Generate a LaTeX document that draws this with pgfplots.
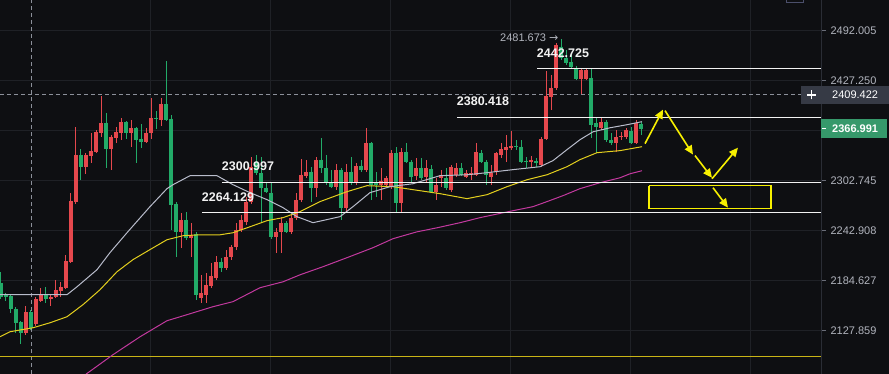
\documentclass[border=0pt]{standalone}
\usepackage{fontspec}
\setmainfont{Liberation Sans}
\newfontfamily\dejavu{DejaVu Sans}
\usepackage{pgfplots}
\pgfplotsset{compat=1.18}
\usetikzlibrary{arrows.meta}
\definecolor{bgc}{HTML}{0E0F12}
\definecolor{gridc}{HTML}{1F2126}
\definecolor{tickc}{HTML}{6A6D78}
\definecolor{labc}{HTML}{B2B5BE}
\definecolor{upc}{HTML}{E5484D}
\definecolor{dnc}{HTML}{22AB68}
\definecolor{maw}{HTML}{B8BCCB}
\definecolor{may}{HTML}{E3CF1E}
\definecolor{mam}{HTML}{C2399E}
\definecolor{lvl}{HTML}{F2F2F2}
\definecolor{yel}{HTML}{F7F000}
\definecolor{byel}{HTML}{C9B416}
\definecolor{dashc}{HTML}{8C909A}
\definecolor{boxc}{HTML}{363A45}
\definecolor{grc}{HTML}{36996B}
\definecolor{topc}{HTML}{4B4F6B}
\definecolor{sepc}{HTML}{2A2D35}
\begin{document}
\begin{tikzpicture}
\fill[bgc] (0,0) rectangle (889pt,374pt);
\begin{axis}[at={(0,0)}, anchor=south west, scale only axis, width=821pt, height=374pt,
 ymode=log, xmin=-0.2, xmax=164, ymin=2080.2, ymax=2533.0,
 axis line style={draw=none},
 xtick={29.8,53.8,77.8,101.8,125.8,149.8}, xticklabels={},
 xtick style={draw=none},
 ytick={2127.859,2184.627,2242.908,2302.745,2364.16,2427.250,2492.005},
 yticklabels={2127.859,2184.627,2242.908,2302.745,,2427.250,2492.005},
 ytick pos=right, yticklabel pos=right,
 tick align=outside, major tick length=5pt,
 ytick style={draw=tickc, line width=0.8pt},
 yticklabel style={font=\fontsize{11}{13}\selectfont, text=labc, xshift=1pt},
 grid=major, grid style={draw=gridc, line width=0.8pt},
 unbounded coords=jump, clip=true,
 every axis plot/.append style={line cap=butt, mark=none},
]
% crosshair
\addplot[dashc, dash pattern=on 4pt off 3pt, line width=0.9pt] coordinates {(6,2080.2)(6,2533)};
\addplot[dashc, dash pattern=on 4pt off 3pt, line width=0.9pt] coordinates {(-0.2,2409.422)(164,2409.422)};
% bottom yellow line
\addplot[byel, line width=1pt] coordinates {(-0.2,2099.1)(164,2099.1)};
% up wicks
\addplot[upc, line width=1pt] coordinates {
(5,2123.4)(5,2156.3)(5,nan) (7,2133.5)(7,2166.5)(7,nan) (8,2160.8)(8,2176.7)(8,nan)
(10,2156.3)(10,2169.9)(10,nan) (11,2165.3)(11,2185.8)(11,nan) (12,2166.5)(12,2183.5)(12,nan)
(13,2175.5)(13,2214.9)(13,nan) (14,2205.6)(14,2288.4)(14,nan) (15,2275.2)(15,2369.2)(15,nan)
(17,2311.3)(17,2337.1)(17,nan) (18,2324.9)(18,2361.7)(18,nan) (19,2337.1)(19,2365.4)(19,nan)
(20,2356.8)(20,2408.3)(20,nan) (22,2316.3)(22,2359.2)(22,nan) (23,2349.4)(23,2369.2)(23,nan)
(24,2353.1)(24,2380.6)(24,nan) (26,2344.5)(26,2378.0)(26,nan) (29,2349.4)(29,2367.9)(29,nan)
(30,2354.3)(30,2405.8)(30,nan) (32,2370.5)(32,2405.8)(32,nan) (36,2223.1)(36,2264.4)(36,nan)
(38,2212.6)(38,2252.5)(38,nan) (40,2159.7)(40,2191.6)(40,nan) (41,2159.7)(41,2194.0)(41,nan)
(42,2176.7)(42,2205.6)(42,nan) (43,2185.8)(43,2213.8)(43,nan) (45,2197.4)(45,2220.8)(45,nan)
(46,2209.1)(46,2226.6)(46,nan) (47,2220.8)(47,2252.5)(47,nan) (48,2241.7)(48,2262.0)(48,nan)
(49,2250.1)(49,2283.6)(49,nan) (50,2275.2)(50,2332.2)(50,nan) (55,2217.3)(55,2246.5)(55,nan)
(56,2217.3)(56,2259.7)(56,nan) (58,2239.4)(58,2262.0)(58,nan) (59,2256.1)(59,2288.4)(59,nan)
(60,2277.6)(60,2329.8)(60,nan) (61,2306.4)(61,2328.5)(61,nan) (63,2283.6)(63,2332.2)(63,nan)
(67,2292.0)(67,2323.6)(67,nan) (69,2265.6)(69,2323.6)(69,nan) (71,2298.0)(71,2324.9)(71,nan)
(73,2313.8)(73,2367.9)(73,nan) (76,2280.0)(76,2318.7)(76,nan) (77,2296.8)(77,2308.9)(77,nan)
(78,2293.2)(78,2340.8)(78,nan) (80,2265.6)(80,2343.3)(80,nan) (83,2304.0)(83,2331.0)(83,nan)
(85,2300.4)(85,2328.5)(85,nan) (87,2280.0)(87,2306.4)(87,nan) (88,2295.6)(88,2316.3)(88,nan)
(90,2289.6)(90,2322.4)(90,nan) (91,2307.7)(91,2324.9)(91,nan) (93,2306.4)(93,2316.3)(93,nan)
(94,2304.0)(94,2319.9)(94,nan) (95,2308.9)(95,2349.4)(95,nan) (98,2298.0)(98,2322.4)(98,nan)
(99,2310.1)(99,2338.4)(99,nan) (100,2331.0)(100,2349.4)(100,nan) (101,2326.1)(101,2359.2)(101,nan)
(102,2340.8)(102,2364.2)(102,nan) (106,2319.9)(106,2333.5)(106,nan) (108,2319.9)(108,2356.8)(108,nan)
(109,2353.1)(109,2440.2)(109,nan) (110,2390.7)(110,2435.0)(110,nan) (111,2415.9)(111,2476.5)(111,nan)
(116,2410.8)(116,2442.8)(116,nan) (117,2428.5)(117,2442.8)(117,nan) (120,2365.4)(120,2380.6)(120,nan)
(123,2338.4)(123,2365.4)(123,nan) (124,2353.1)(124,2362.9)(124,nan) (125,2354.3)(125,2367.9)(125,nan)
(127,2348.2)(127,2378.0)(127,nan)};
% up bodies
\addplot[upc, line width=3.6pt] coordinates {
(5,2125.6)(5,2149.4)(5,nan) (7,2135.8)(7,2164.2)(7,nan) (8,2161.9)(8,2169.9)(8,nan)
(10,2164.2)(10,2166.5)(10,nan) (11,2166.5)(11,2174.4)(11,nan) (12,2173.3)(12,2177.8)(12,nan)
(13,2176.7)(13,2207.9)(13,nan) (14,2206.8)(14,2278.8)(14,nan) (15,2277.6)(15,2334.7)(15,nan)
(17,2319.9)(17,2334.7)(17,nan) (18,2333.5)(18,2339.6)(18,nan) (19,2338.4)(19,2362.9)(19,nan)
(20,2361.7)(20,2374.2)(20,nan) (22,2342.1)(22,2356.8)(22,nan) (23,2355.6)(23,2362.9)(23,nan)
(24,2361.7)(24,2375.5)(24,nan) (26,2361.7)(26,2367.9)(26,nan) (29,2350.7)(29,2361.7)(29,nan)
(30,2361.7)(30,2380.6)(30,nan) (32,2378.0)(32,2398.2)(32,nan) (36,2241.7)(36,2256.1)(36,nan)
(38,2234.7)(38,2238.2)(38,nan) (40,2165.3)(40,2171.0)(40,nan) (41,2168.7)(41,2180.1)(41,nan)
(42,2178.9)(42,2190.5)(42,nan) (43,2188.1)(43,2206.8)(43,nan) (45,2199.8)(45,2212.6)(45,nan)
(46,2212.6)(46,2224.3)(46,nan) (47,2224.3)(47,2244.1)(47,nan) (48,2244.1)(48,2256.1)(48,nan)
(49,2253.7)(49,2277.6)(49,nan) (50,2277.6)(50,2319.9)(50,nan) (55,2235.9)(55,2241.7)(55,nan)
(56,2241.7)(56,2252.5)(56,nan) (58,2241.7)(58,2258.5)(58,nan) (59,2258.5)(59,2280.0)(59,nan)
(60,2280.0)(60,2310.1)(60,nan) (61,2308.9)(61,2313.8)(61,nan) (63,2294.4)(63,2328.5)(63,nan)
(67,2295.6)(67,2316.3)(67,nan) (69,2270.4)(69,2313.8)(69,nan) (71,2300.4)(71,2321.2)(71,nan)
(73,2316.3)(73,2349.4)(73,nan) (76,2298.0)(76,2302.7)(76,nan) (77,2298.0)(77,2306.4)(77,nan)
(78,2295.6)(78,2337.1)(78,nan) (80,2276.4)(80,2338.4)(80,nan) (83,2308.9)(83,2318.7)(83,nan)
(85,2307.7)(85,2318.7)(85,nan) (87,2289.6)(87,2298.0)(87,nan) (88,2306.4)(88,2310.1)(88,nan)
(90,2292.0)(90,2319.9)(90,nan) (91,2310.1)(91,2318.7)(91,nan) (93,2307.7)(93,2312.6)(93,nan)
(94,2310.1)(94,2312.6)(94,nan) (95,2310.1)(95,2338.4)(95,nan) (98,2307.7)(98,2312.6)(98,nan)
(99,2313.8)(99,2337.1)(99,nan) (100,2334.7)(100,2342.1)(100,nan) (101,2340.8)(101,2344.5)(101,nan)
(102,2343.3)(102,2345.7)(102,nan) (106,2326.1)(106,2328.5)(106,nan) (108,2322.4)(108,2354.3)(108,nan)
(109,2354.3)(109,2408.3)(109,nan) (110,2407.1)(110,2418.4)(110,nan) (111,2418.4)(111,2473.9)(111,nan)
(116,2429.8)(116,2441.5)(116,nan) (117,2429.8)(117,2441.5)(117,nan) (120,2367.9)(120,2375.5)(120,nan)
(123,2349.4)(123,2356.8)(123,nan) (124,2356.8)(124,2358.0)(124,nan) (125,2356.8)(125,2365.4)(125,nan)
(127,2349.4)(127,2374.2)(127,nan)};
% down wicks
\addplot[dnc, line width=1pt] coordinates {
(0,2164.2)(0,2195.1)(0,nan) (1,2161.9)(1,2171.0)(1,nan) (2,2148.3)(2,2169.9)(2,nan)
(3,2125.6)(3,2155.1)(3,nan) (4,2113.5)(4,2139.2)(4,nan) (6,2129.0)(6,2151.7)(6,nan)
(9,2159.7)(9,2177.8)(9,nan) (16,2304.0)(16,2342.1)(16,nan) (21,2318.7)(21,2386.9)(21,nan)
(25,2354.3)(25,2376.8)(25,nan) (27,2324.9)(27,2369.2)(27,nan) (28,2343.3)(28,2373.0)(28,nan)
(31,2366.7)(31,2389.4)(31,nan) (33,2376.8)(33,2453.2)(33,nan) (34,2244.1)(34,2384.3)(34,nan)
(35,2212.6)(35,2277.6)(35,nan) (37,2232.4)(37,2265.6)(37,nan) (39,2163.1)(39,2241.7)(39,nan)
(44,2195.1)(44,2211.4)(44,nan) (51,2310.1)(51,2334.7)(51,nan) (52,2253.7)(52,2332.2)(52,nan)
(53,2288.4)(53,2300.4)(53,nan) (54,2233.6)(54,2300.4)(54,nan) (57,2240.6)(57,2254.9)(57,nan)
(62,2277.6)(62,2319.9)(62,nan) (64,2312.6)(64,2355.6)(64,nan) (65,2298.0)(65,2334.7)(65,nan)
(66,2294.4)(66,2316.3)(66,nan) (68,2256.1)(68,2318.7)(68,nan) (70,2298.0)(70,2332.2)(70,nan)
(72,2313.8)(72,2328.5)(72,nan) (74,2280.0)(74,2350.7)(74,nan) (75,2283.6)(75,2313.8)(75,nan)
(79,2265.6)(79,2344.5)(79,nan) (81,2324.9)(81,2349.4)(81,nan) (82,2301.6)(82,2328.5)(82,nan)
(84,2304.0)(84,2331.0)(84,nan) (86,2288.4)(86,2322.4)(86,nan) (89,2292.0)(89,2318.7)(89,nan)
(92,2308.9)(92,2324.9)(92,nan) (96,2324.9)(96,2340.8)(96,nan) (97,2298.0)(97,2328.5)(97,nan)
(103,2340.8)(103,2353.1)(103,nan) (104,2324.9)(104,2353.1)(104,nan) (105,2318.7)(105,2332.2)(105,nan)
(107,2319.9)(107,2331.0)(107,nan) (112,2454.4)(112,2481.673)(112,nan) (113,2448.0)(113,2467.4)(113,nan)
(114,2444.1)(114,2460.9)(114,nan) (115,2428.5)(115,2446.7)(115,nan) (118,2355.6)(118,2442.8)(118,nan)
(119,2337.1)(119,2380.6)(119,nan) (121,2350.7)(121,2378.0)(121,nan) (122,2347.0)(122,2361.7)(122,nan)
(126,2348.2)(126,2369.2)(126,nan) (128,2359.2)(128,2375.5)(128,nan)};
% down bodies
\addplot[dnc, line width=3.6pt] coordinates {
(0,2182.4)(0,2166.5)(0,nan) (1,2168.7)(1,2166.5)(1,nan) (2,2167.6)(2,2152.9)(2,nan)
(3,2152.9)(3,2136.9)(3,nan) (4,2138.1)(4,2125.6)(4,nan) (6,2149.4)(6,2131.3)(6,nan)
(9,2169.9)(9,2164.2)(9,nan) (16,2334.7)(16,2319.9)(16,nan) (21,2374.2)(21,2342.1)(21,nan)
(25,2375.5)(25,2361.7)(25,nan) (27,2367.9)(27,2353.1)(27,nan) (28,2354.3)(28,2350.7)(28,nan)
(31,2380.6)(31,2379.3)(31,nan) (33,2398.2)(33,2378.0)(33,nan) (34,2379.3)(34,2274.0)(34,nan)
(35,2275.2)(35,2241.7)(35,nan) (37,2256.1)(37,2234.7)(37,nan) (39,2239.4)(39,2168.7)(39,nan)
(44,2206.8)(44,2199.8)(44,nan) (51,2326.1)(51,2312.6)(51,nan) (52,2312.6)(52,2294.4)(52,nan)
(53,2294.4)(53,2289.6)(53,nan) (54,2288.4)(54,2235.9)(54,nan) (57,2252.5)(57,2241.7)(57,nan)
(62,2313.8)(62,2294.4)(62,nan) (64,2328.5)(64,2318.7)(64,nan) (65,2318.7)(65,2301.6)(65,nan)
(66,2301.6)(66,2295.6)(66,nan) (68,2316.3)(68,2270.4)(68,nan) (70,2313.8)(70,2300.4)(70,nan)
(72,2321.2)(72,2316.3)(72,nan) (74,2349.4)(74,2298.0)(74,nan) (75,2300.4)(75,2298.0)(75,nan)
(79,2337.1)(79,2276.4)(79,nan) (81,2338.4)(81,2326.1)(81,nan) (82,2326.1)(82,2307.7)(82,nan)
(84,2318.7)(84,2306.4)(84,nan) (86,2317.5)(86,2289.6)(86,nan) (89,2306.4)(89,2294.4)(89,nan)
(92,2318.7)(92,2310.1)(92,nan) (96,2337.1)(96,2326.1)(96,nan) (97,2326.1)(97,2310.1)(97,nan)
(103,2345.7)(103,2344.5)(103,nan) (104,2344.5)(104,2326.1)(104,nan) (105,2327.3)(105,2326.1)(105,nan)
(107,2327.3)(107,2324.9)(107,nan) (112,2471.3)(112,2457.0)(112,nan) (113,2457.0)(113,2450.6)(113,nan)
(114,2451.9)(114,2445.4)(114,nan) (115,2442.8)(115,2429.8)(115,nan) (118,2431.1)(118,2371.7)(118,nan)
(119,2374.2)(119,2369.2)(119,nan) (121,2375.5)(121,2353.1)(121,nan) (122,2353.1)(122,2349.4)(122,nan)
(126,2364.2)(126,2349.4)(126,nan) (128,2373.0)(128,2366.991)(128,nan)};
% moving averages
\addplot[mam, line width=1pt, line join=round] coordinates {
(15.8,2074.8)(17.4,2081.4)(22.4,2101.3)(27.8,2121.2)(33.2,2139.2)(37.2,2146.0)(42.4,2155.1)
(46.4,2160.8)(51.8,2176.7)(56.4,2183.5)(59.8,2191.6)(64.4,2200.9)(69.2,2211.4)(74.4,2223.1)
(78.4,2233.6)(83.2,2241.7)(87.2,2246.5)(91.8,2252.5)(95.8,2258.5)(102.4,2266.8)(106.4,2271.6)
(109.2,2277.6)(112.4,2284.8)(115.8,2293.2)(119.8,2300.4)(123.8,2306.4)(125.8,2311.3)(128.2,2315.0)};
\addplot[may, line width=1pt, line join=round] coordinates {
(-0.2,2121.2)(1.8,2126.8)(6.4,2131.3)(9.8,2136.9)(13.2,2143.7)(16.4,2157.4)(19.8,2174.4)
(23.2,2195.1)(26.4,2209.1)(29.8,2220.8)(33.2,2232.4)(36.4,2237.1)(39.8,2238.2)(43.8,2238.2)
(46.4,2240.6)(49.8,2247.7)(53.2,2254.9)(56.4,2258.5)(59.8,2265.6)(63.8,2277.6)(69.2,2289.6)
(73.2,2296.8)(78.4,2295.6)(82.4,2292.0)(87.8,2287.2)(93.2,2281.2)(97.2,2286.0)(101.2,2295.6)
(105.2,2304.0)(109.2,2310.1)(113.2,2319.9)(115.8,2328.5)(119.2,2337.1)(123.8,2339.6)(128.2,2344.5)};
\addplot[maw, line width=1pt, line join=round] coordinates {
(-0.2,2168.7)(13.2,2168.7)(15.2,2177.8)(19.2,2197.4)(21.8,2217.3)(25.2,2240.6)(29.8,2271.6)
(33.2,2293.2)(34.4,2298.0)(37.8,2308.9)(43.2,2308.9)(46.4,2298.0)(49.8,2288.4)(53.2,2280.0)
(56.4,2270.4)(59.2,2259.7)(62.4,2252.5)(67.8,2259.7)(70.4,2271.6)(73.8,2288.4)(77.8,2295.6)
(82.4,2299.2)(87.8,2308.9)(93.2,2310.1)(97.2,2312.6)(102.4,2316.3)(107.8,2319.9)(110.4,2327.3)
(113.2,2340.8)(115.8,2353.1)(118.4,2362.9)(121.8,2367.9)(125.2,2371.7)(128.2,2375.5)};
% horizontal levels
\addplot[lvl, line width=1.1pt] coordinates {(107.2,2442.725)(164,2442.725)};
\addplot[lvl, line width=1.1pt] coordinates {(91.2,2380.418)(164,2380.418)};
\addplot[lvl, line width=1.1pt] coordinates {(44.2,2300.997)(164,2300.997)};
\addplot[lvl, line width=1.1pt] coordinates {(40.2,2264.129)(164,2264.129)};
\node[text=lvl, font=\fontsize{12.5}{14}\selectfont\bfseries] at (axis cs:112.4,2462.2) {2442.725};
\node[text=lvl, font=\fontsize{12.5}{14}\selectfont\bfseries] at (axis cs:96.4,2400.8) {2380.418};
\node[text=lvl, font=\fontsize{12.5}{14}\selectfont\bfseries] at (axis cs:49.4,2319.9) {2300.997};
\node[text=lvl, font=\fontsize{12.5}{14}\selectfont\bfseries] at (axis cs:45.4,2282.4) {2264.129};
\node[text=labc, font=\fontsize{11}{13}\selectfont, anchor=west, inner sep=0pt] at (axis cs:99.8,2482.9) {2481.673 {\dejavu →}};
% yellow arrows and box
\addplot[yel, line width=1.6pt, -{Triangle[length=9pt,width=8pt]}] coordinates {(128.8,2348.2)(132.4,2390.7)};
\addplot[yel, line width=1.6pt, -{Triangle[length=9pt,width=8pt]}] coordinates {(132.8,2389.4)(138.4,2334.7)};
\addplot[yel, line width=1.6pt, -{Triangle[length=9pt,width=8pt]}] coordinates {(138.8,2333.5)(142.2,2306.4)};
\addplot[yel, line width=1.6pt, -{Triangle[length=9pt,width=8pt]}] coordinates {(142.2,2305.2)(147.4,2343.3)};
\addplot[yel, line width=1.6pt, -{Triangle[length=9pt,width=8pt]}] coordinates {(142.4,2294.4)(145.4,2270.4)};
\addplot[yel, line width=1.2pt] coordinates {(129.6,2296.8)(154.0,2296.8)(154.0,2269.2)(129.6,2269.2)(129.6,2296.8)};
\end{axis}
% right separator
\draw[sepc, line width=0.8pt] (821.5pt,0) -- (821.5pt,374pt);
% crosshair price box
\fill[boxc] (801pt,270pt) rectangle (889pt,288pt);
\draw[white, line width=1.2pt] (807pt,279pt) -- (816pt,279pt) (811.5pt,274.5pt) -- (811.5pt,283.5pt);
\node[anchor=west, inner sep=0pt, text=white, font=\fontsize{11}{13}\selectfont] at (832pt,279pt) {2409.422};
% current price box
\fill[grc] (821pt,236pt) rectangle (887pt,255pt);
\draw[white, line width=0.8pt] (822pt,245.5pt) -- (826pt,245.5pt);
\node[anchor=west, inner sep=0pt, text=white, font=\fontsize{11}{13}\selectfont\bfseries] at (832pt,245.5pt) {2366.991};
% top-right small box
\draw[topc, line width=0.8pt] (786pt,372pt) rectangle (803pt,376pt);
\pgfresetboundingbox
\path[use as bounding box] (0,0) rectangle (889pt,374pt);
\end{tikzpicture}
\end{document}
